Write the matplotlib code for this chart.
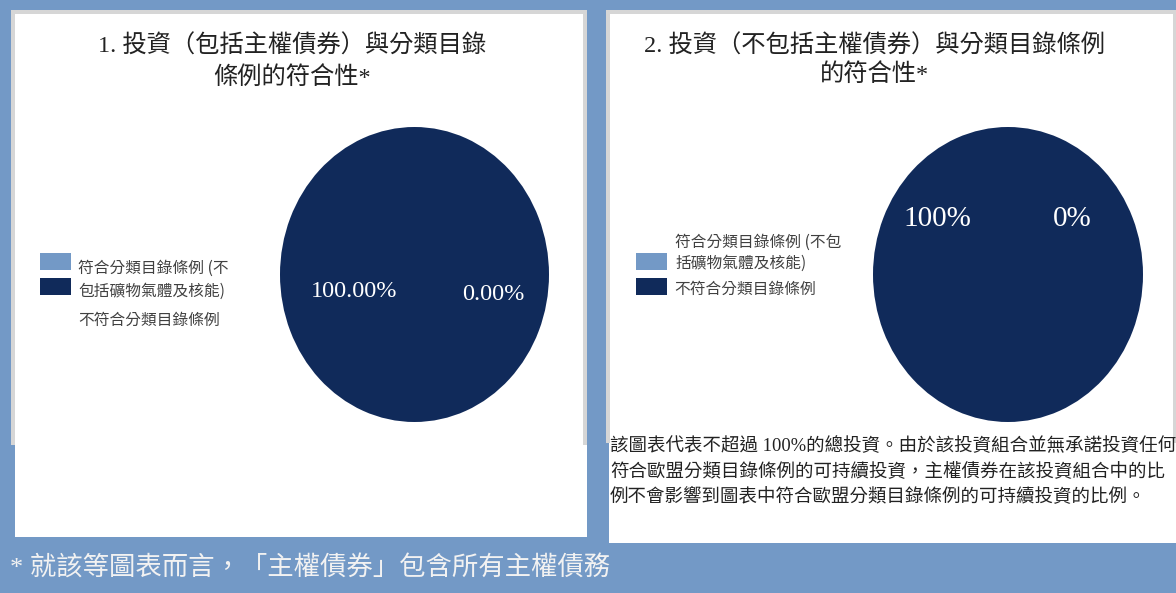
import matplotlib
matplotlib.use("Agg")
import matplotlib.pyplot as plt
from matplotlib.patches import Rectangle

# ---- data ----
categories = ["符合分類目錄條例 (不包括礦物氣體及核能)", "不符合分類目錄條例"]
incl_sovereign = [0.00, 100.00]     # chart 1: investments including sovereign bonds
excl_sovereign = [0, 100]           # chart 2: investments excluding sovereign bonds
titles = ["1. 投資（包括主權債券）與分類目錄\n條例的符合性*",
          "2. 投資（不包括主權債券）與分類目錄條例\n的符合性*"]
note = ("該圖表代表不超過 100%的總投資。由於該投資組合並無承諾投資任何\n"
        "符合歐盟分類目錄條例的可持續投資，主權債券在該投資組合中的比\n"
        "例不會影響到圖表中符合歐盟分類目錄條例的可持續投資的比例。")
footnote = "* 就該等圖表而言，「主權債券」包含所有主權債務"

# ---- style ----
BG = "#7399C6"
NAVY = "#102A5A"
LIGHT = "#7399C6"
FRAME = "#D6D6D6"
colors = [LIGHT, NAVY]
SERIF_CJK = ["Liberation Serif", "Noto Sans CJK TC"]
SANS_CJK = ["Noto Sans CJK TC", "DejaVu Sans"]

W, H = 1176, 593
fig = plt.figure(figsize=(W / 100, H / 100), dpi=100, facecolor=BG)

# overlay in pixel coordinates (origin top-left)
bg = fig.add_axes([0, 0, 1, 1])
bg.set_xlim(0, W)
bg.set_ylim(H, 0)
bg.axis("off")

def rect(x0, y0, x1, y1, c):
    bg.add_patch(Rectangle((x0, y0), x1 - x0, y1 - y0, facecolor=c,
                           edgecolor="none", zorder=1))

# left panel
rect(11, 10, 587, 445, FRAME)
rect(15, 14, 583, 445, "white")
rect(15, 445, 587, 537, "white")
# right panel
rect(606, 10, W, 443, FRAME)
rect(610, 14, 1173, 443, "white")
rect(609, 443, W, 543, "white")

# titles
bg.text(292, 62, titles[0], ha="center", va="center", fontsize=17.5,
        family=SERIF_CJK, color="#222222", linespacing=1.45, zorder=3)
bg.text(874, 60, titles[1], ha="center", va="center", fontsize=17.5,
        family=SERIF_CJK, color="#222222", linespacing=1.3, zorder=3)

# pies
def draw_pie(box, values):
    x0, y0, x1, y1 = box
    ax = fig.add_axes([x0 / W, 1 - y1 / H, (x1 - x0) / W, (y1 - y0) / H])
    ax.pie(values, colors=colors, startangle=90, counterclock=False,
           radius=1, wedgeprops=dict(linewidth=0))
    ax.set_aspect("auto")
    ax.set_xlim(-1, 1)
    ax.set_ylim(-1, 1)
    ax.axis("off")
    return ax

draw_pie((280, 127, 549, 422), incl_sovereign)
draw_pie((873, 127, 1143, 422), excl_sovereign)

# value labels on the pies
lab = dict(ha="center", va="center", color="white", family=SERIF_CJK, zorder=5)
fig.text(354 / W, 1 - 291 / H, f"{incl_sovereign[1]:.2f}%", fontsize=17.5, **lab)
fig.text(493 / W, 1 - 294 / H, f"{incl_sovereign[0]:.2f}%", fontsize=17.5, **lab)
fig.text(937 / W, 1 - 219 / H, f"{excl_sovereign[1]:.0f}%", fontsize=21, **lab)
fig.text(1072 / W, 1 - 219 / H, f"{excl_sovereign[0]:.0f}%", fontsize=21, **lab)

# legends
leg_txt = dict(ha="left", va="center", fontsize=11.3, family=SANS_CJK,
               color="#404040", zorder=3)
for x in (40, 636):
    rect(x, 253, x + 31, 270, colors[0])
    rect(x, 278, x + 31, 295, colors[1])

bg.text(78, 268, "符合分類目錄條例 (不", **leg_txt)
bg.text(78, 291, "包括礦物氣體及核能)", **leg_txt)
bg.text(78, 320, categories[1], **leg_txt)

bg.text(675, 242, "符合分類目錄條例 (不包", **leg_txt)
bg.text(675, 263, "括礦物氣體及核能)", **leg_txt)
bg.text(674, 289, categories[1], **leg_txt)

# explanatory note
bg.text(610, 471, note, ha="left", va="center", fontsize=13.3,
        family=SERIF_CJK, color="#222222", linespacing=1.5, zorder=3)

# footnote
bg.text(10, 568, footnote, ha="left", va="center", fontsize=19,
        family=SERIF_CJK, color="#F2F2F2", zorder=3)

fig.savefig("out.png", dpi=100, facecolor=BG)
